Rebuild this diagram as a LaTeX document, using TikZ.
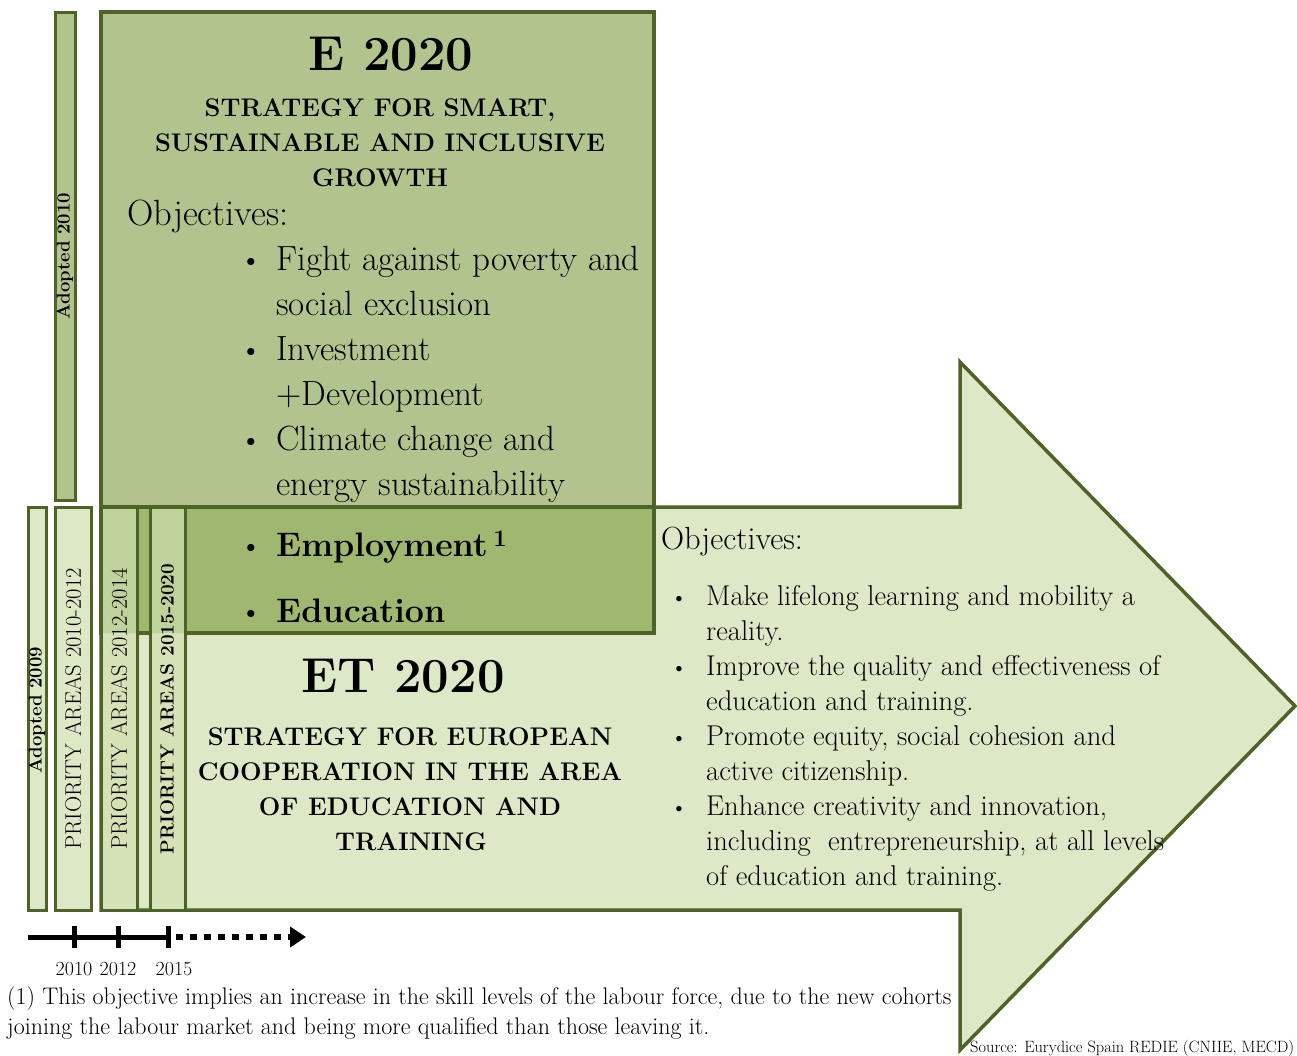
\documentclass[tikz,border=0pt]{standalone}
\usepackage{tikz}
\usetikzlibrary{arrows.meta, positioning, calc}

\definecolor{edge}{HTML}{4F6228}
\definecolor{emid}{HTML}{B2C48E}
\definecolor{eover}{HTML}{9FB76F}
\definecolor{etlight}{HTML}{DDE8C6}
\definecolor{bartop}{HTML}{C0D29C}
\definecolor{barlow}{HTML}{D5E2B6}

\tikzset{
  box/.style={draw=edge, line width=3.5pt, line join=miter},
  barbox/.style={draw=edge, line width=3pt},
  bartext/.style={rotate=90, inner sep=0pt, font=\fontsize{22.5}{22.5}\selectfont},
  adopttext/.style={rotate=90, inner sep=0pt, font=\bfseries\fontsize{18.5}{18.5}\selectfont},
  title/.style={anchor=base, inner sep=0pt, font=\bfseries\fontsize{49}{49}\selectfont},
  caps/.style={anchor=base, inner sep=0pt, font=\bfseries\fontsize{25.5}{35}\selectfont},
  eitem/.style={anchor=base west, inner sep=0pt, font=\fontsize{35}{45}\selectfont},
  ebold/.style={eitem, font=\bfseries\fontsize{34}{45}\selectfont},
  aitem/.style={anchor=base west, inner sep=0pt, font=\fontsize{28.6}{35}\selectfont},
  dot/.style={anchor=base, inner sep=0pt},
  note/.style={anchor=base west, inner sep=0pt, font=\fontsize{24}{30}\selectfont},
  year/.style={anchor=base, inner sep=0pt, font=\fontsize{20}{20}\selectfont},
}

\begin{document}
\begin{tikzpicture}[x=1pt, y=-1pt]
    \useasboundingbox (0,0) rectangle (1297,1055);

    % ET 2020 arrow
    \draw[box, fill=etlight] (101,507) -- (960,507) -- (960,362) -- (1295,706)
        -- (960,1050) -- (960,910) -- (101,910) -- cycle;

    % E 2020 box, darker where it lies on the arrow
    \fill[emid] (101,12) rectangle (654,507);
    \fill[eover] (101,507) rectangle (654,633);
    \draw[edge, line width=3.5pt] (101,507) -- (654,507);
    \draw[box] (101,12) rectangle (654,633);

    % Bars
    \draw[barbox, fill=emid] (55,12) rectangle (75,500);
    \draw[barbox, fill=etlight] (28,507) rectangle (46,910);
    \draw[barbox, fill=etlight] (55,507) rectangle (91,910);
    \foreach \xa/\xb in {101/137, 150/185} {
        \fill[bartop] (\xa,507) rectangle (\xb,633);
        \fill[barlow] (\xa,633) rectangle (\xb,910);
        \draw[barbox] (\xa,507) rectangle (\xb,910);
    }
    \node[adopttext] (adopt10) at (65,256) {Adopted 2010};
    \node[adopttext] (adopt09) at (37,710) {Adopted 2009};
    \node[bartext] (pa1012) at (73,709) {PRIORITY AREAS 2010-2012};
    \node[bartext] (pa1214) at (119,709) {PRIORITY AREAS 2012-2014};
    \node[bartext, font=\bfseries\fontsize{19}{19}\selectfont] (pa1520) at (167,709) {PRIORITY AREAS 2015-2020};

    % E 2020 texts
    \node[title] (etitle) at (391,70) {E 2020};
    \node[caps] (esub1) at (380,116) {STRATEGY FOR SMART,};
    \node[caps] (esub2) at (380,151) {SUSTAINABLE AND INCLUSIVE};
    \node[caps] (esub3) at (380,186) {GROWTH};
    \node[eitem, font=\fontsize{36.5}{45}\selectfont] (eobj) at (127,225) {Objectives:};
    \foreach \n/\y/\t in {1/270/Fight against poverty and, 2/315/social exclusion,
        3/360/Investment, 4/405/+Development, 5/450/Climate change and,
        6/495/energy sustainability}
        \node[eitem] (eline\n) at (276,\y) {\t};
    \node[ebold] (employ) at (276,556) {Employment\,\textsuperscript{1}};
    \node[ebold] (educ) at (276,622) {Education};
    \foreach \y in {270,360,450,556,622}
        \node[dot, font=\fontsize{32}{45}\selectfont] (ebul\y) at (251,\y) {\textbullet};

    % ET 2020 texts
    \node[title] (ettitle) at (403,692) {ET 2020};
    \node[caps] (etsub1) at (410,745) {STRATEGY FOR EUROPEAN};
    \node[caps] (etsub2) at (410,780) {COOPERATION IN THE AREA};
    \node[caps] (etsub3) at (410,815) {OF EDUCATION AND};
    \node[caps] (etsub4) at (411,850) {TRAINING};
    \node[aitem, font=\fontsize{32}{35}\selectfont] (etobj) at (661,549) {Objectives:};
    \foreach \n/\y/\t in {1/605/Make lifelong learning and mobility a, 2/640/reality.,
        3/675/Improve the quality and effectiveness of, 4/710/education and training.,
        5/745/{Promote equity, social cohesion and}, 6/780/active citizenship.,
        7/815/{Enhance creativity and innovation,}, 8/850/{including\ \ entrepreneurship, at all levels},
        9/885/of education and training.}
        \node[aitem] (etline\n) at (706,\y) {\t};
    \foreach \y in {605,675,745,815}
        \node[dot, font=\fontsize{24}{35}\selectfont] (etbul\y) at (679,\y) {\textbullet};

    % Timeline
    \coordinate (t0) at (28,937);
    \coordinate (t2010) at (74,937);
    \coordinate (t2012) at (118,937);
    \coordinate (t2015) at (168,937);
    \coordinate (tdots) at (176,937);
    \coordinate (tend) at (306,937);
    \draw[line width=5pt] (t0) -- (t2015);
    \foreach \c in {t2010,t2012,t2015}
        \draw[line width=5pt] ($(\c)+(0,-11)$) -- ($(\c)+(0,11)$);
    \draw[line width=6pt, dash pattern=on 7pt off 7pt, -{Triangle[length=16pt,width=20pt]}] (tdots) -- (tend);
    \node[year] (y2010) at (74,975) {2010};
    \node[year] (y2012) at (118,975) {2012};
    \node[year] (y2015) at (174,975) {2015};

    % Footnote and source
    \node[note] (note1) at (7,1004) {(1) This objective implies an increase in the skill levels of the labour force, due to the new cohorts};
    \node[note] (note2) at (7,1034) {joining the labour market and being more qualified than those leaving it.};
    \node[anchor=base west, inner sep=0pt, font=\fontsize{16.4}{16.4}\selectfont] (source) at (970,1052) {Source: Eurydice Spain REDIE (CNIIE, MECD)};
\end{tikzpicture}
\end{document}
